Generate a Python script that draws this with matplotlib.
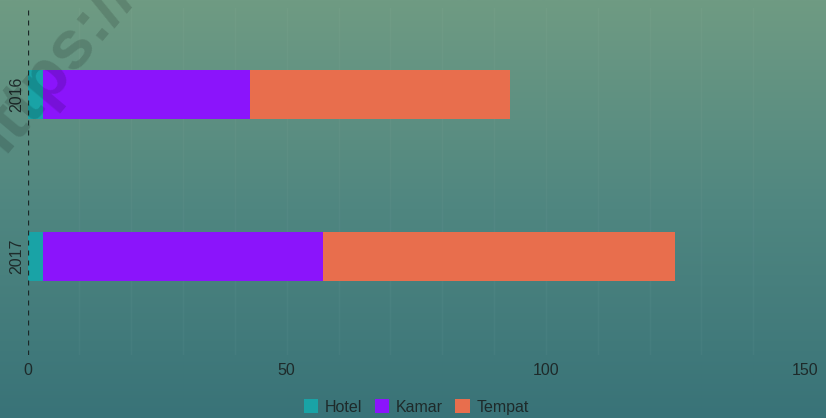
import numpy as np
import matplotlib
matplotlib.use("Agg")
import matplotlib.pyplot as plt
from matplotlib.colors import LinearSegmentedColormap

plt.rcParams["font.family"] = ["Liberation Sans", "DejaVu Sans"]

years = ["2016", "2017"]
hotel = [3, 3]
kamar = [40, 54]
tempat = [50, 68]

series = [("Hotel", hotel, "#19a3a6"), ("Kamar", kamar, "#8b14fb"), ("Tempat", tempat, "#e86e4d")]

W, H = 826, 418
fig = plt.figure(figsize=(W / 100, H / 100), dpi=100)

# background gradient for the whole figure
bg = fig.add_axes([0, 0, 1, 1], zorder=-10)
cmap = LinearSegmentedColormap.from_list("bg", ["#6f9b83", "#4f8680", "#397378"])
bg.imshow(np.linspace(0, 1, 256).reshape(-1, 1), aspect="auto", cmap=cmap, extent=[0, 1, 0, 1])
bg.axis("off")

top, bottom = 8, 355
ax = fig.add_axes([27.5 / W, 1 - bottom / H, (805 - 27.5) / W, (bottom - top) / H])
ax.patch.set_alpha(0)

y = np.arange(len(years))
left = np.zeros(len(years))
handles = []
for name, vals, col in series:
    h = ax.barh(y, vals, left=left, height=0.3, color=col, label=name)
    left += np.array(vals)
    handles.append(h)

ax.set_xlim(0, 150)
ax.set_ylim(1.605, -0.532)
ax.set_yticks(y)
ax.set_yticklabels(years, rotation=90, va="center", fontsize=11.5, color="#1e2a2a")
ax.set_xticks([0, 50, 100, 150])
ax.tick_params(axis="x", labelsize=11.5, colors="#1e2a2a", length=0, pad=6)
ax.tick_params(axis="y", length=0, pad=2)
for s in ax.spines.values():
    s.set_visible(False)
ax.axvline(0, color="#1a2626", linestyle=(0, (4, 4)), linewidth=0.9)
for gx in range(10, 150, 10):
    ax.axvline(gx, color="white", alpha=0.03, linewidth=1, zorder=0)

ax.legend(handles=handles, loc="center", bbox_to_anchor=(0.5, (bottom - 407) / (bottom - top)), ncol=3,
          frameon=False, fontsize=11.5, handlelength=0.9, handleheight=0.9,
          handletextpad=0.4, columnspacing=0.8, labelcolor="#1e2a2a")

# faint watermark, partly outside the canvas like in the original
fig.text(-12 / W, 1 - 172 / H, "https://", fontsize=50, rotation=50, color="black", alpha=0.14,
         fontweight="bold", ha="left", va="baseline", rotation_mode="anchor")

fig.savefig("out.png", dpi=100)
